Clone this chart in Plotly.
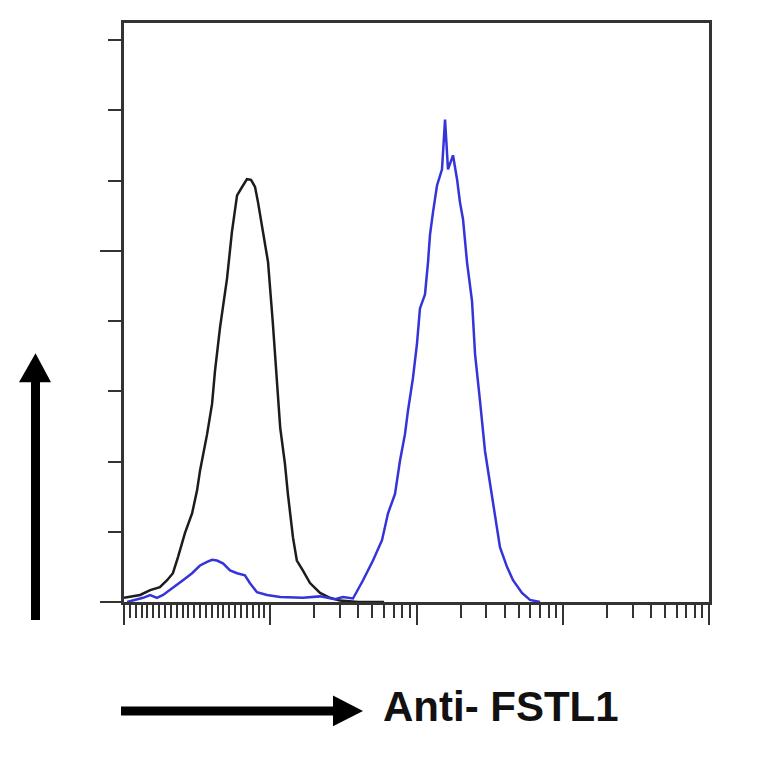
import plotly.graph_objects as go

# ---- data ----
# Isotype control (black)
ctrl_x = [1.0, 1.29, 1.51, 1.76, 1.97, 2.16, 2.34, 2.61, 2.92, 3.16, 3.31, 3.70, 4.00, 4.19, 4.53,
          5.06, 5.47, 5.93, 6.51, 6.93, 7.39, 7.87, 8.25, 8.92, 9.66, 10.4, 11.1, 11.7, 12.6, 13.2,
          14.3, 15.2, 16.7, 18.7, 21.9, 25.6, 30.0, 40.0, 60.0]
ctrl_y = [0.06, 0.10, 0.17, 0.21, 0.31, 0.41, 0.64, 0.98, 1.26, 1.59, 1.87, 2.39, 2.82, 3.29, 3.90,
          4.60, 5.27, 5.79, 5.93, 6.02, 6.01, 5.91, 5.69, 5.27, 4.84, 3.99, 3.19, 2.48, 1.97, 1.54,
          0.92, 0.59, 0.45, 0.27, 0.13, 0.06, 0.02, 0.0, 0.0]

# Anti-FSTL1 (blue)
ab_x = [1.05, 1.35, 1.51, 1.68, 1.85, 2.16, 2.53, 2.92, 3.31, 3.70, 4.00, 4.32, 4.75, 5.31, 5.93,
        6.71, 7.25, 8.11, 9.50, 11.7, 16.7, 21.9, 27.7, 31.4, 36.8, 43.1, 50.4, 58.1, 63.8, 71.3,
        77.1, 83.4, 87.4, 94.6, 100.7, 105.6, 114.3, 119.9, 123.7, 129.7, 138.1, 149.4, 156.7,
        164.2, 177.7, 189.3, 198.3, 208.0, 221.5, 239.8, 251.4, 271.9, 294.0, 318.1, 344.0, 372.1,
        415.6, 457.2, 526.4, 597.0, 699.0]
ab_y = [0.0, 0.06, 0.10, 0.06, 0.10, 0.21, 0.31, 0.41, 0.52, 0.57, 0.60, 0.59, 0.55, 0.45, 0.41,
        0.38, 0.27, 0.14, 0.10, 0.07, 0.06, 0.08, 0.04, 0.07, 0.05, 0.31, 0.59, 0.88, 1.26, 1.54,
        2.01, 2.39, 2.72, 3.19, 3.67, 4.18, 4.38, 4.84, 5.23, 5.55, 5.93, 6.16, 6.87,
        6.16, 6.36, 6.02, 5.69, 5.45, 4.84, 4.28, 3.53, 2.86, 2.15, 1.69, 1.20, 0.78,
        0.50, 0.31, 0.13, 0.03, 0.0]

x_major = [1, 10, 100, 1000, 10000]
x_minor = [10 ** (k * 0.04) for k in range(1, 25)] + \
          [m * d for d in (10, 100, 1000) for m in range(2, 10)]
x_label = "Anti- FSTL1"

# ---- figure ----
OFF = 8              # page body margin
W = H = 764 - 2 * OFF
L, R, T, B = 124, 709, 20, 602   # plot box in page pixels


def fx(px):
    return (px - L) / (R - L)


def fy(py):
    return (B - py) / (B - T)


fig = go.Figure()
fig.add_trace(go.Scatter(x=ctrl_x, y=ctrl_y, mode="lines",
                         line=dict(color="#1c1c1c", width=2.5), showlegend=False))
fig.add_trace(go.Scatter(x=ab_x, y=ab_y, mode="lines",
                         line=dict(color="#3434d8", width=2.5), showlegend=False))

axis_col = "#333333"
fig.update_xaxes(type="log", range=[0, 4], showgrid=False, zeroline=False,
                 showline=True, linecolor=axis_col, linewidth=2.5, mirror=True,
                 tickmode="array", tickvals=x_major, showticklabels=False,
                 ticks="outside", ticklen=20, tickwidth=2, tickcolor=axis_col,
                 minor=dict(tickmode="array", tickvals=x_minor, ticks="outside",
                            ticklen=13, tickwidth=2, tickcolor=axis_col))
fig.update_yaxes(range=[0, (B - T) / 70.6], showgrid=False, zeroline=False,
                 showline=True, linecolor=axis_col, linewidth=2.5, mirror=True,
                 tickmode="linear", tick0=0, dtick=5, showticklabels=False,
                 ticks="outside", ticklen=21, tickwidth=2, tickcolor=axis_col,
                 minor=dict(dtick=1, ticks="outside", ticklen=13, tickwidth=2,
                            tickcolor=axis_col))

shapes = []
# vertical arrow
shapes.append(dict(type="rect", xref="paper", yref="paper",
                   x0=fx(31), x1=fx(40), y0=fy(620), y1=fy(378),
                   fillcolor="black", line=dict(width=0)))
shapes.append(dict(type="path", xref="paper", yref="paper",
                   path=f"M {fx(19)},{fy(381)} L {fx(51)},{fy(381)} L {fx(35.5)},{fy(352)} Z",
                   fillcolor="black", line=dict(width=0)))
# horizontal arrow
shapes.append(dict(type="rect", xref="paper", yref="paper",
                   x0=fx(121), x1=fx(336), y0=fy(716), y1=fy(707),
                   fillcolor="black", line=dict(width=0)))
shapes.append(dict(type="path", xref="paper", yref="paper",
                   path=f"M {fx(333)},{fy(696)} L {fx(333)},{fy(727)} L {fx(363)},{fy(711.5)} Z",
                   fillcolor="black", line=dict(width=0)))

fig.update_layout(
    width=W, height=H,
    margin=dict(l=L - OFF, r=W + OFF - R, t=T - OFF, b=H + OFF - B),
    paper_bgcolor="white", plot_bgcolor="white",
    shapes=shapes,
    annotations=[dict(text=f"<b>{x_label}</b>", xref="paper", yref="paper",
                      x=fx(381), y=fy(707), xanchor="left", yanchor="middle",
                      showarrow=False,
                      font=dict(family="Liberation Sans, Arial, sans-serif",
                                size=42, color="#111111"))],
)

fig.write_html("out.html")
